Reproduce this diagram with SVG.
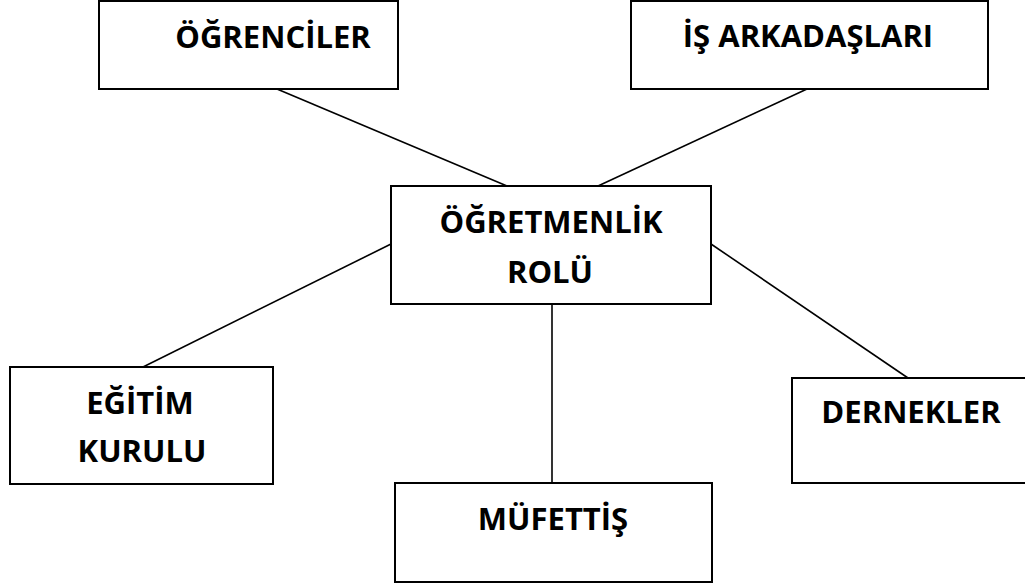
<svg xmlns="http://www.w3.org/2000/svg" width="1025" height="586" viewBox="0 0 1025 586">
<style>
.box{fill:#fff;stroke:#000;stroke-width:2}
.lbl{font-family:"Open Sans","DejaVu Sans",sans-serif;font-weight:bold;font-size:31px;fill:#000;text-anchor:middle}
.con{stroke:#000;stroke-width:1.6;fill:none}
</style>
<rect width="1025" height="586" fill="#fff"/>
<g id="connectors">
<line class="con" x1="277" y1="89" x2="507" y2="186"/>
<line class="con" x1="807" y1="89" x2="598" y2="186"/>
<line class="con" x1="391" y1="244" x2="143" y2="367"/>
<line class="con" x1="711" y1="244" x2="908" y2="378"/>
<line class="con" x1="552" y1="304" x2="552" y2="483"/>
</g>
<g id="ogrenciler">
<rect class="box" x="99" y="1" width="299" height="88"/>
<text class="lbl" x="273" y="48">ÖĞRENCİLER</text>
</g>
<g id="is-arkadaslari">
<rect class="box" x="631" y="1" width="357" height="88"/>
<text class="lbl" x="808" y="47">İŞ ARKADAŞLARI</text>
</g>
<g id="ogretmenlik-rolu">
<rect class="box" x="391" y="186" width="320" height="118"/>
<text class="lbl" x="551" y="233">ÖĞRETMENLİK</text>
<text class="lbl" x="550" y="283">ROLÜ</text>
</g>
<g id="egitim-kurulu">
<rect class="box" x="10" y="367" width="263" height="117"/>
<text class="lbl" x="140" y="414">EĞİTİM</text>
<text class="lbl" x="142" y="462">KURULU</text>
</g>
<g id="dernekler">
<rect class="box" x="792" y="378" width="240" height="105"/>
<text class="lbl" x="911" y="423">DERNEKLER</text>
</g>
<g id="mufettis">
<rect class="box" x="395" y="483" width="317" height="99"/>
<text class="lbl" x="553" y="530">MÜFETTİŞ</text>
</g>
</svg>
